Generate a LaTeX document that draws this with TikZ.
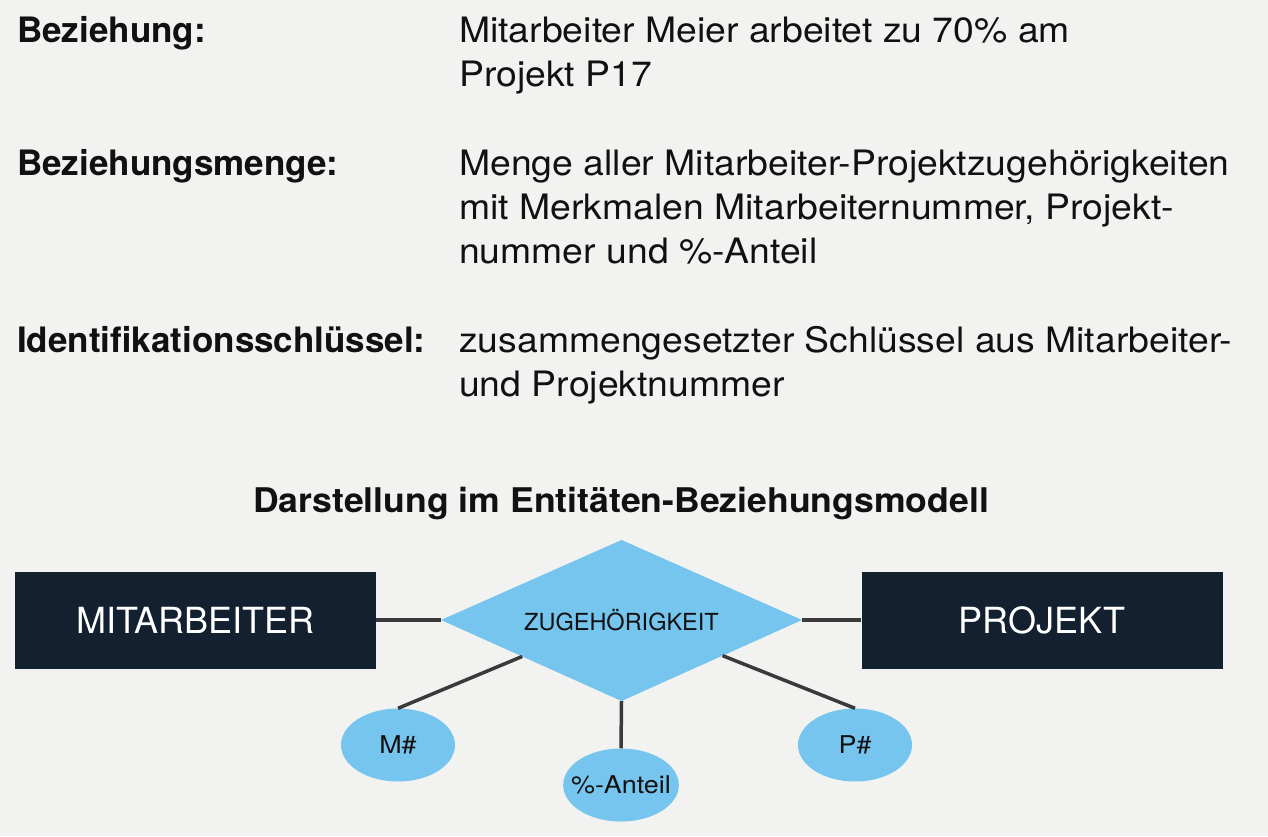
\documentclass[tikz,border=0pt]{standalone}
\usepackage{fontspec}
\setmainfont{TeX Gyre Heros}
\newfontfamily\bodyfont{TeX Gyre Heros}[FakeStretch=1.067]
\newfontfamily\titlefont{TeX Gyre Heros}[FakeStretch=1.047]
\newfontfamily\attrfont{TeX Gyre Heros}[FakeStretch=1.1]
\usetikzlibrary{shapes.geometric,calc}
\definecolor{bg}{HTML}{F2F2F0}
\definecolor{navy}{HTML}{122030}
\definecolor{sky}{HTML}{76C5EE}
\definecolor{linec}{HTML}{3A3A3A}
\definecolor{txt}{HTML}{111111}
\tikzset{
  lbl/.style={anchor=base west, inner sep=0pt, text=txt, font=\fontsize{35}{42}\selectfont\bfseries},
  body/.style={anchor=base west, inner sep=0pt, text=txt, font=\bodyfont\fontsize{35}{42}\selectfont},
  entity/.style={draw=none, fill=navy, text=white, minimum width=361pt, minimum height=97pt, inner sep=0pt, font=\fontsize{36}{40}\selectfont},
  reltext/.style={inner sep=0pt, text=txt, font=\fontsize{23.5}{26}\selectfont},
  attr/.style={shape=ellipse, fill=sky, inner sep=0pt, minimum height=73pt, text=txt, font=\attrfont\fontsize{24.5}{28}\selectfont},
  conn/.style={draw=linec, line width=3.5pt}
}
\begin{document}
\begin{tikzpicture}[x=1pt,y=-1pt]
\fill[bg] (0,0) rectangle (1268,836);
\useasboundingbox (0,0) rectangle (1268,836);
% text block
\node[lbl] (l1) at (17,42) {Beziehung:};
\node[body] (t11) at (459,42) {Mitarbeiter Meier arbeitet zu 70\% am};
\node[body] (t12) at (459,86.25) {Projekt P17};
\node[lbl] (l2) at (17,175) {Beziehungsmenge:};
\node[body] (t21) at (459,175) {Menge aller Mitarbeiter-Projektzugehörigkeiten};
\node[body] (t22) at (459,219) {mit Merkmalen Mitarbeiternummer, Projekt-};
\node[body] (t23) at (459,263) {nummer und \%-Anteil};
\node[lbl] (l3) at (17,352) {Identifikationsschlüssel:};
\node[body] (t31) at (459,352) {zusammengesetzter Schlüssel aus Mitarbeiter-};
\node[body] (t32) at (459,396) {und Projektnummer};
\node[anchor=base, inner sep=0pt, text=txt, font=\titlefont\fontsize{34}{40}\selectfont\bfseries] (title) at (621,512) {Darstellung im Entitäten-Beziehungsmodell};
% diagram
\node[entity] (ma) at (195.5,620) {MITARBEITER};
\node[entity] (pr) at (1042,620) {PROJEKT};
\coordinate (zw) at (441,620);
\coordinate (zn) at (621.5,540);
\coordinate (ze) at (802,620);
\coordinate (zs) at (621.5,701);
\fill[sky] (zw) -- (zn) -- (ze) -- (zs) -- cycle;
\node[reltext] (zu) at (621.5,620) {ZUGEHÖRIGKEIT};
\node[attr, minimum width=114pt] (m) at (398,745) {M\#};
\node[attr, minimum width=115pt, inner xsep=-9pt] (a) at (621,785) {\%-Anteil};
\node[attr, minimum width=114pt] (p) at (855,745) {P\#};
\draw[conn] (ma.east) -- (zw);
\draw[conn] (ze) -- (pr.west);
\draw[conn] (zs) -- (a.north);
\draw[conn] ($(zw)!0.45!(zs)$) -- (m.north);
\draw[conn] ($(zs)!0.56!(ze)$) -- (p.north);
\end{tikzpicture}
\end{document}
